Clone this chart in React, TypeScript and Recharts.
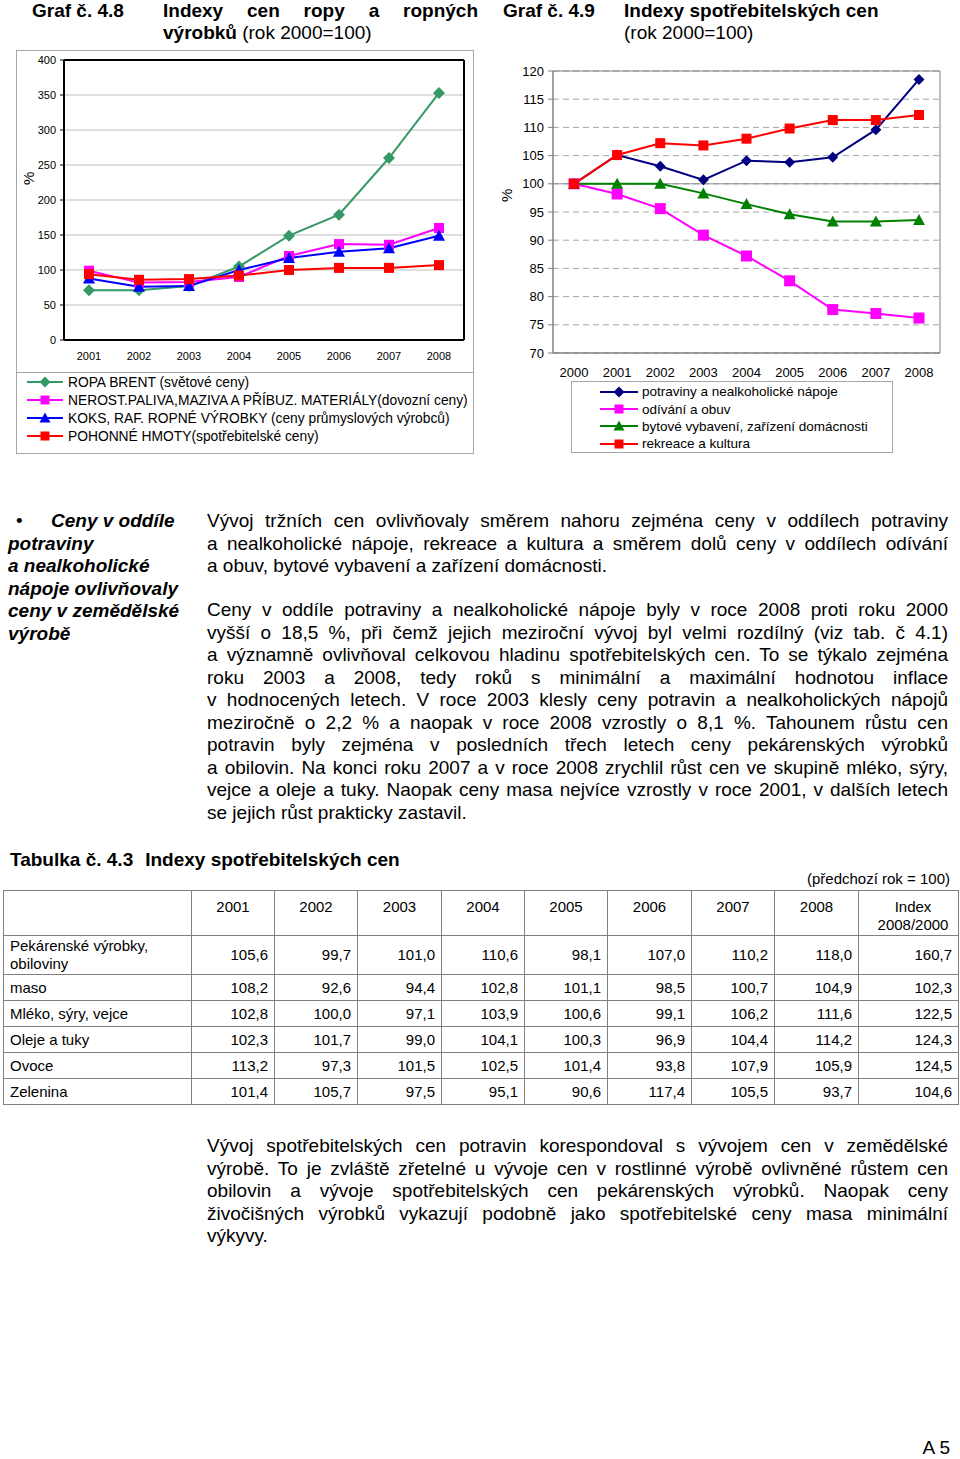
import React from 'react';
import { LineChart, Line, XAxis, YAxis, CartesianGrid, Legend, ReferenceLine } from 'recharts';

const FONT = '"Liberation Sans", Arial, Helvetica, sans-serif';

// Graf č. 4.8 – indexy cen ropy a ropných výrobků (2000 = 100)
const oilYears = ['2001', '2002', '2003', '2004', '2005', '2006', '2007', '2008'];
const ropaBrent = [71, 71, 77, 105, 149, 179, 260, 353];
const nerostPaliva = [99, 82, 83, 90, 120, 137, 136, 160];
const koksRaf = [88, 76, 77, 100, 117, 126, 131, 149];
const pohonneHmoty = [94, 86, 87, 92, 100, 103, 103, 107];
const oilTicks = [0, 50, 100, 150, 200, 250, 300, 350, 400];

// Graf č. 4.9 – indexy spotřebitelských cen (2000 = 100)
const cpiYears = ['2000', '2001', '2002', '2003', '2004', '2005', '2006', '2007', '2008'];
const potraviny = [100, 105.1, 103.1, 100.7, 104.1, 103.8, 104.7, 109.6, 118.5];
const odivani = [100, 98.2, 95.6, 90.9, 87.2, 82.8, 77.7, 77.0, 76.2];
const bytove = [100, 100, 100, 98.3, 96.4, 94.6, 93.3, 93.3, 93.6];
const rekreace = [100, 105.1, 107.2, 106.8, 108.0, 109.8, 111.3, 111.3, 112.2];
const cpiTicks = [70, 75, 80, 85, 90, 95, 100, 105, 110, 115, 120];

// Tabulka č. 4.3
const tableYears = ['2001', '2002', '2003', '2004', '2005', '2006', '2007', '2008'];
const pekarenske = [105.6, 99.7, 101.0, 110.6, 98.1, 107.0, 110.2, 118.0, 160.7];
const maso = [108.2, 92.6, 94.4, 102.8, 101.1, 98.5, 100.7, 104.9, 102.3];
const mleko = [102.8, 100.0, 97.1, 103.9, 100.6, 99.1, 106.2, 111.6, 122.5];
const oleje = [102.3, 101.7, 99.0, 104.1, 100.3, 96.9, 104.4, 114.2, 124.3];
const ovoce = [113.2, 97.3, 101.5, 102.5, 101.4, 93.8, 107.9, 105.9, 124.5];
const zelenina = [101.4, 105.7, 97.5, 95.1, 90.6, 117.4, 105.5, 93.7, 104.6];

type Shape = 'diamond' | 'square' | 'triangle';
interface Series {
  key: string;
  name: string;
  color: string;
  shape: Shape;
  size: number;
  values: number[];
}

const oilSeries: Series[] = [
  { key: 'ropa', name: 'ROPA BRENT (světové ceny)', color: '#339966', shape: 'diamond', size: 10, values: ropaBrent },
  { key: 'nerost', name: 'NEROST.PALIVA,MAZIVA A PŘÍBUZ. MATERIÁLY(dovozní ceny)', color: '#ff00ff', shape: 'square', size: 10, values: nerostPaliva },
  { key: 'koks', name: 'KOKS, RAF. ROPNÉ VÝROBKY (ceny průmyslových výrobců)', color: '#0000ff', shape: 'triangle', size: 10, values: koksRaf },
  { key: 'pohonne', name: 'POHONNÉ HMOTY(spotřebitelské ceny)', color: '#ff0000', shape: 'square', size: 10, values: pohonneHmoty },
];

const cpiSeries: Series[] = [
  { key: 'potraviny', name: 'potraviny a nealkoholické nápoje', color: '#000080', shape: 'diamond', size: 9, values: potraviny },
  { key: 'odivani', name: 'odívání a obuv', color: '#ff00ff', shape: 'square', size: 11, values: odivani },
  { key: 'bytove', name: 'bytové vybavení, zařízení domácnosti', color: '#008000', shape: 'triangle', size: 10, values: bytove },
  { key: 'rekreace', name: 'rekreace a kultura', color: '#ff0000', shape: 'square', size: 10, values: rekreace },
];

const tableRows = [
  { name: ['Pekárenské výrobky,', 'obiloviny'], values: pekarenske },
  { name: ['maso'], values: maso },
  { name: ['Mléko, sýry, vejce'], values: mleko },
  { name: ['Oleje a tuky'], values: oleje },
  { name: ['Ovoce'], values: ovoce },
  { name: ['Zelenina'], values: zelenina },
];

const oilData = oilYears.map((year, i) => {
  const row: Record<string, string | number> = { year };
  oilSeries.forEach(s => (row[s.key] = s.values[i]));
  return row;
});

const cpiData = cpiYears.map((year, i) => {
  const row: Record<string, string | number> = { year };
  cpiSeries.forEach(s => (row[s.key] = s.values[i]));
  return row;
});

// plot-area frame: grid lines only at the edges of the plot
const edgesH = ({ offset }: any) => [offset.top, offset.top + offset.height];
const edgesV = ({ offset }: any) => [offset.left, offset.left + offset.width];

const Marker = ({ shape, cx, cy, color, size }: { shape: Shape; cx: number; cy: number; color: string; size: number }) => {
  const r = size / 2;
  if (shape === 'diamond') {
    const d = r + 1;
    return <polygon points={`${cx},${cy - d} ${cx + d},${cy} ${cx},${cy + d} ${cx - d},${cy}`} fill={color} />;
  }
  if (shape === 'triangle') {
    return <polygon points={`${cx},${cy - r - 1} ${cx + r + 1},${cy + r} ${cx - r - 1},${cy + r}`} fill={color} />;
  }
  return <rect x={cx - r} y={cy - r} width={size} height={size} fill={color} />;
};

const renderDot = (s: Series) => (props: any) => {
  const { cx, cy, index } = props;
  if (cx == null || cy == null) return <g key={`${s.key}-${index}`} />;
  return (
    <g key={`${s.key}-${index}`}>
      <Marker shape={s.shape} cx={cx} cy={cy} color={s.color} size={s.size} />
    </g>
  );
};

const LegendBox = ({ series, style, rowH, swatchW, gap, fontSize }: { series: Series[]; style: React.CSSProperties; rowH: number; swatchW: number; gap: number; fontSize: number }) => (
  <div style={{ boxSizing: 'border-box', fontFamily: FONT, fontSize, color: '#000', background: '#fff', ...style }}>
    {series.map(s => (
      <div key={s.key} style={{ display: 'flex', alignItems: 'center', height: rowH, whiteSpace: 'nowrap' }}>
        <svg width={swatchW} height={14} style={{ flex: 'none' }}>
          <line x1={0} y1={7} x2={swatchW} y2={7} stroke={s.color} strokeWidth={2} />
          <Marker shape={s.shape} cx={swatchW / 2} cy={7} color={s.color} size={9} />
        </svg>
        <span style={{ marginLeft: gap }}>{s.name}</span>
      </div>
    ))}
  </div>
);

const OilChart = () => (
  <div style={{ position: 'absolute', left: 16, top: 50, width: 456, height: 402, border: '1px solid #a6a6a6', background: '#fff' }}>
    <LineChart width={456} height={402} data={oilData} margin={{ top: 9, right: 9, left: 7, bottom: 0 }}>
      <CartesianGrid vertical={false} stroke="#bfbfbf" />
      <CartesianGrid
        stroke="#000"
        strokeWidth={2}
        horizontalCoordinatesGenerator={edgesH}
        verticalCoordinatesGenerator={edgesV}
      />
      <XAxis
        dataKey="year"
        padding={{ left: 25, right: 25 }}
        interval={0}
        height={32}
        tickLine={false}
        tickMargin={6}
        axisLine={{ stroke: '#000', strokeWidth: 2 }}
        tick={{ fontSize: 11, fill: '#000' }}
      />
      <YAxis
        domain={[0, 400]}
        ticks={oilTicks}
        width={40}
        tickSize={4}
        tickMargin={4}
        tickLine={{ stroke: '#000' }}
        axisLine={{ stroke: '#000', strokeWidth: 2 }}
        tick={{ fontSize: 11, fill: '#000' }}
        label={{ value: '%', angle: -90, position: 'insideLeft', offset: 5, dy: -15, style: { fontSize: 15, fill: '#000' } }}
      />
      <Legend
        verticalAlign="bottom"
        align="left"
        wrapperStyle={{ left: 0, bottom: 0, width: 456 }}
        content={() => (
          <LegendBox
            series={oilSeries}
            rowH={18}
            swatchW={36}
            gap={5}
            fontSize={13.8}
            style={{ width: 456, height: 81, borderTop: '1px solid #a6a6a6', paddingLeft: 10, paddingTop: 0 }}
          />
        )}
      />
      {oilSeries.map(s => (
        <Line
          key={s.key}
          type="linear"
          dataKey={s.key}
          name={s.name}
          stroke={s.color}
          strokeWidth={2}
          dot={renderDot(s)}
          activeDot={false}
          isAnimationActive={false}
        />
      ))}
    </LineChart>
  </div>
);

const CpiChart = () => (
  <div style={{ position: 'absolute', left: 490, top: 62, width: 460, height: 391 }}>
    <LineChart width={460} height={391} data={cpiData} margin={{ top: 9, right: 10, left: 13, bottom: 0 }}>
      <CartesianGrid vertical={false} stroke="#a6a6a6" strokeDasharray="6 4" />
      <CartesianGrid stroke="#808080" horizontalCoordinatesGenerator={edgesH} verticalCoordinatesGenerator={edgesV} />
      <ReferenceLine y={100} stroke="#8c8c8c" strokeWidth={1} />
      <XAxis
        dataKey="year"
        padding={{ left: 21, right: 21 }}
        interval={0}
        height={28}
        tickLine={false}
        tickMargin={9}
        axisLine={{ stroke: '#808080' }}
        tick={{ fontSize: 13, fill: '#000' }}
      />
      <YAxis
        domain={[70, 120]}
        ticks={cpiTicks}
        width={50}
        tickSize={5}
        tickMargin={4}
        tickLine={{ stroke: '#808080' }}
        axisLine={{ stroke: '#808080' }}
        tick={{ fontSize: 13, fill: '#000' }}
        label={{ value: '%', angle: -90, position: 'insideLeft', offset: 4, dy: -10, style: { fontSize: 15, fill: '#000' } }}
      />
      <Legend
        verticalAlign="bottom"
        align="left"
        wrapperStyle={{ left: 81, bottom: 0, width: 322 }}
        content={() => (
          <LegendBox
            series={cpiSeries}
            rowH={17.4}
            swatchW={38}
            gap={4}
            fontSize={13.5}
            style={{ width: 322, height: 72, border: '1px solid #a6a6a6', paddingLeft: 28, paddingTop: 1 }}
          />
        )}
      />
      {cpiSeries.map(s => (
        <Line
          key={s.key}
          type="linear"
          dataKey={s.key}
          name={s.name}
          stroke={s.color}
          strokeWidth={2}
          dot={renderDot(s)}
          activeDot={false}
          isAnimationActive={false}
        />
      ))}
    </LineChart>
  </div>
);

const J = ({ children }: { children: React.ReactNode }) => (
  <div style={{ textAlign: 'justify', textAlignLast: 'justify', whiteSpace: 'nowrap' }}>{children}</div>
);

const para1 = [
  'Vývoj tržních cen ovlivňovaly směrem nahoru zejména ceny v\u00a0oddílech potraviny',
  'a nealkoholické nápoje, rekreace a kultura a směrem dolů ceny v\u00a0oddílech odívání',
  'a obuv, bytové vybavení a zařízení domácnosti.',
];

const para2 = [
  'Ceny v\u00a0oddíle potraviny a nealkoholické nápoje byly v\u00a0roce 2008 proti roku 2000',
  'vyšší o 18,5 %, při čemž jejich meziroční vývoj byl velmi rozdílný (viz tab. č 4.1)',
  'a významně ovlivňoval celkovou hladinu spotřebitelských cen. To se týkalo zejména',
  'roku 2003 a 2008, tedy roků s\u00a0minimální a maximální hodnotou inflace',
  'v\u00a0hodnocených letech. V\u00a0roce 2003 klesly ceny potravin a nealkoholických nápojů',
  'meziročně o 2,2 % a naopak v roce 2008 vzrostly o 8,1 %. Tahounem růstu cen',
  'potravin byly zejména v\u00a0posledních třech letech ceny pekárenských výrobků',
  'a obilovin. Na konci roku 2007 a v roce 2008 zrychlil růst cen ve skupině mléko, sýry,',
  'vejce a oleje a tuky. Naopak ceny masa nejvíce vzrostly v roce 2001, v dalších letech',
  'se jejich růst prakticky zastavil.',
];

const para3 = [
  'Vývoj spotřebitelských cen potravin korespondoval s vývojem cen v\u00a0zemědělské',
  'výrobě. To je zvláště zřetelné u vývoje cen v\u00a0rostlinné výrobě ovlivněné růstem cen',
  'obilovin a vývoje spotřebitelských cen pekárenských výrobků. Naopak ceny',
  'živočišných výrobků vykazují podobně jako spotřebitelské ceny masa minimální',
  'výkyvy.',
];

const Paragraph = ({ lines, top }: { lines: string[]; top: number }) => (
  <div style={{ position: 'absolute', left: 207, top, width: 741, fontSize: 19, lineHeight: '22.5px' }}>
    {lines.map((l, i) =>
      i < lines.length - 1 ? <J key={i}>{l}</J> : <div key={i} style={{ whiteSpace: 'nowrap' }}>{l}</div>
    )}
  </div>
);

const fmt = (v: number) => v.toFixed(1).replace('.', ',');

const colW = [188, 83, 83, 84, 83, 83, 84, 83, 84, 100];
const cellBorder = '1px solid #808080';

const PriceTable = () => (
  <table
    style={{
      position: 'absolute',
      left: 3,
      top: 890,
      width: 955,
      borderCollapse: 'collapse',
      tableLayout: 'fixed',
      fontSize: 15,
      lineHeight: '18px',
      fontFamily: FONT,
    }}
  >
    <colgroup>
      {colW.map((w, i) => (
        <col key={i} style={{ width: w }} />
      ))}
    </colgroup>
    <tbody>
      <tr style={{ height: 44 }}>
        <td style={{ border: cellBorder }} />
        {tableYears.map(y => (
          <td key={y} style={{ border: cellBorder, textAlign: 'center', verticalAlign: 'top', paddingTop: 7 }}>
            {y}
          </td>
        ))}
        <td style={{ border: cellBorder, textAlign: 'center', verticalAlign: 'top', paddingTop: 7, paddingLeft: 10 }}>
          Index
          <br />
          2008/2000
        </td>
      </tr>
      {tableRows.map((r, ri) => (
        <tr key={ri} style={{ height: ri === 0 ? 36 : 26 }}>
          <td style={{ border: cellBorder, paddingLeft: 6, verticalAlign: 'middle', whiteSpace: 'nowrap' }}>
            {r.name.map((n, k) => (
              <div key={k}>{n}</div>
            ))}
          </td>
          {r.values.map((v, vi) => (
            <td key={vi} style={{ border: cellBorder, textAlign: 'right', paddingRight: 6, verticalAlign: 'middle' }}>
              {fmt(v)}
            </td>
          ))}
        </tr>
      ))}
    </tbody>
  </table>
);

export default function App() {
  return (
    <div
      style={{
        position: 'absolute',
        left: 0,
        top: 0,
        width: 960,
        height: 1459,
        background: '#fff',
        color: '#000',
        fontFamily: FONT,
        overflow: 'hidden',
      }}
    >
      {/* headers */}
      <div style={{ position: 'absolute', left: 32, top: 0, fontSize: 19, lineHeight: '21.5px', fontWeight: 'bold' }}>Graf č. 4.8</div>
      <div style={{ position: 'absolute', left: 163, top: 0, width: 315, fontSize: 19, lineHeight: '21.5px' }}>
        <J>
          <b>Indexy cen ropy a ropných</b>
        </J>
        <div style={{ whiteSpace: 'nowrap' }}>
          <b>výrobků</b> (rok 2000=100)
        </div>
      </div>
      <div style={{ position: 'absolute', left: 503, top: 0, fontSize: 19, lineHeight: '21.5px', fontWeight: 'bold' }}>Graf č. 4.9</div>
      <div style={{ position: 'absolute', left: 624, top: 0, fontSize: 19, lineHeight: '21.5px', whiteSpace: 'nowrap' }}>
        <div>
          <b>Indexy spotřebitelských cen</b>
        </div>
        <div>(rok 2000=100)</div>
      </div>

      <OilChart />
      <CpiChart />

      {/* side note */}
      <div style={{ position: 'absolute', left: 8, top: 510, fontSize: 19, lineHeight: '22.5px', fontWeight: 'bold', fontStyle: 'italic', whiteSpace: 'nowrap' }}>
        <div>
          <span style={{ fontStyle: 'normal', fontWeight: 'normal', display: 'inline-block', width: 43, paddingLeft: 8, boxSizing: 'border-box' }}>•</span>
          Ceny v oddíle
        </div>
        <div>potraviny</div>
        <div>a nealkoholické</div>
        <div>nápoje ovlivňovaly</div>
        <div>ceny v zemědělské</div>
        <div>výrobě</div>
      </div>

      <Paragraph lines={para1} top={510} />
      <Paragraph lines={para2} top={599} />

      <div style={{ position: 'absolute', left: 10, top: 849, fontSize: 19, lineHeight: '22px', fontWeight: 'bold', whiteSpace: 'nowrap' }}>
        Tabulka č. 4.3<span style={{ marginLeft: 12 }}>Indexy spotřebitelských cen</span>
      </div>
      <div style={{ position: 'absolute', right: 10, top: 870, fontSize: 15, lineHeight: '18px', whiteSpace: 'nowrap' }}>(předchozí rok = 100)</div>

      <PriceTable />

      <Paragraph lines={para3} top={1135} />

      <div style={{ position: 'absolute', right: 10, top: 1437, fontSize: 19, lineHeight: '22px' }}>A 5</div>
    </div>
  );
}
